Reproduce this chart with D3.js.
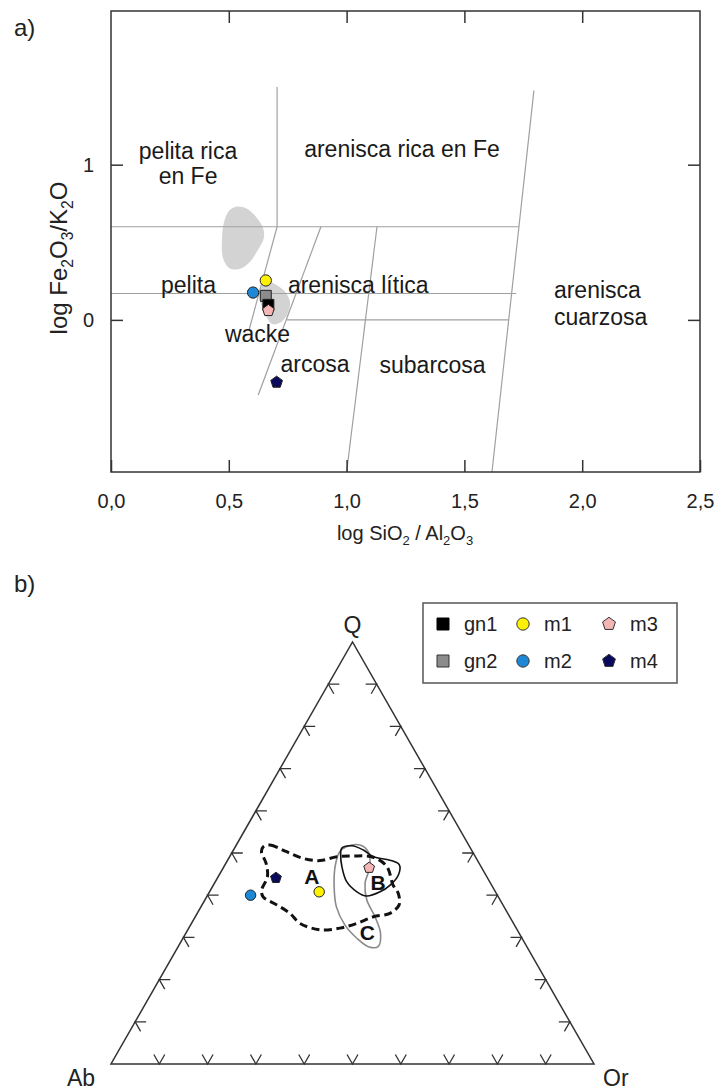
<!DOCTYPE html>
<html>
<head>
<meta charset="utf-8">
<script src="https://cdn.jsdelivr.net/npm/d3@7"></script>
<style>
  body { margin: 0; background: #fff; }
  svg { font-family: "Liberation Sans", Arial, sans-serif; }
</style>
</head>
<body>
<svg width="716" height="1092"></svg>
<script>
// ---- panel a: log SiO2/Al2O3 vs log Fe2O3/K2O (Herron) ----
const xTicks = [0, 0.5, 1.0, 1.5, 2.0, 2.5];
const yTicks = [0, 1];

const muestras = ["m2", "m1", "gn2", "gn1", "m3", "m4"];
const logSiAl = [0.603, 0.657, 0.657, 0.668, 0.668, 0.703];
const logFeK = [0.176, 0.254, 0.155, 0.097, 0.060, -0.402];

// límites de los campos [x, y]
const limites = [
  [[0.705, 1.5], [0.705, 0.6]],
  [[0, 0.6], [1.73, 0.6]],
  [[0, 0.17], [1.72, 0.17]],
  [[0.747, 0], [1.686, 0]],
  [[0.705, 0.6], [0.586, -0.065]],
  [[0.891, 0.6], [0.625, -0.484]],
  [[1.129, 0.6], [1.0, -0.98]],
  [[1.795, 1.477], [1.617, -0.98]]
];

// campos sombreados (muestras de referencia)
const campoGris1 = [[0.531, 0.729], [0.577, 0.716], [0.615, 0.665], [0.645, 0.594], [0.649, 0.529],
  [0.624, 0.452], [0.590, 0.374], [0.548, 0.329], [0.501, 0.335], [0.475, 0.400],
  [0.471, 0.516], [0.480, 0.632], [0.501, 0.703]];
const campoGris2 = [[0.666, 0.245], [0.709, 0.219], [0.743, 0.174], [0.760, 0.110], [0.747, 0.032],
  [0.717, -0.019], [0.683, -0.026], [0.654, 0.039], [0.632, 0.129], [0.637, 0.206]];

const nombresCampos = ["pelita rica", "en Fe", "arenisca rica en Fe", "pelita", "arenisca lítica",
  "wacke", "arcosa", "subarcosa", "arenisca", "cuarzosa"];
const campoX = [0.327, 0.327, 1.235, 0.329, 0.751, 0.622, 0.866, 1.365, 1.88, 1.88];
const campoY = [1.039, 0.877, 1.052, 0.174, 0.174, -0.142, -0.335, -0.342, 0.142, -0.032];
const campoAnchor = ["middle", "middle", "middle", "middle", "start", "middle", "middle", "middle", "start", "start"];

// ---- panel b: Q - Ab - Or ----
const terMuestras = ["m2", "m4", "m1", "m3"];
const terQ = [40.0, 44.1, 40.8, 46.5];
const terAb = [51.1, 43.8, 36.5, 23.3];
const terOr = [8.9, 12.1, 22.7, 30.2];

// [Q, Ab, Or]
const campoA = [[51.5, 42.7, 5.8], [51.9, 41.1, 7.0], [50.3, 38.5, 11.2], [48.7, 35.8, 15.5],
  [48.2, 32.6, 19.2], [49.1, 28.7, 22.2], [49.3, 25.2, 25.5], [49.0, 21.2, 29.8],
  [46.8, 19.5, 33.7], [42.4, 20.4, 37.2], [40.5, 20.3, 39.2], [37.7, 21.5, 40.8],
  [35.7, 24.4, 39.9], [34.9, 28.2, 36.9], [33.3, 32.5, 34.2], [32.2, 36.5, 31.3],
  [31.8, 40.8, 27.4], [33.3, 44.2, 22.5], [35.7, 45.1, 19.2], [37.7, 46.8, 15.5],
  [39.6, 48.7, 11.7], [41.2, 48.2, 10.6], [44.4, 45.4, 10.2], [47.6, 44.1, 8.3],
  [50.3, 43.7, 6.0]];
const campoB = [[51.1, 26.7, 22.2], [51.7, 24.3, 24.0], [50.7, 22.4, 26.9], [49.1, 21.1, 29.8],
  [48.3, 18.1, 33.6], [47.2, 16.7, 36.1], [44.8, 18.1, 37.1], [42.4, 21.0, 36.6],
  [40.8, 23.9, 35.3], [39.8, 27.2, 33.0], [40.8, 28.7, 30.5], [43.2, 29.6, 27.2],
  [46.8, 28.8, 24.4], [49.5, 27.7, 22.8]];
const campoC = [[51.5, 25.5, 23.0], [51.9, 22.5, 25.6], [50.3, 21.6, 28.1], [46.8, 23.0, 30.2],
  [42.8, 26.0, 31.2], [38.9, 27.6, 33.5], [34.9, 27.9, 37.2], [31.0, 28.7, 40.3],
  [27.8, 30.8, 41.4], [27.8, 32.8, 39.4], [29.8, 34.2, 36.0], [32.9, 35.1, 32.0],
  [37.3, 34.7, 28.0], [42.0, 32.8, 25.2], [46.8, 30.2, 23.0], [50.3, 27.5, 22.2]];
const letrasCampos = ["A", "B", "C"];
const letraQ = [44.4, 43.0, 31.1];
const letraOr = [19.4, 33.8, 37.5];
const ticksTer = [10, 20, 30, 40, 50, 60, 70, 80, 90];

// estilo de cada muestra
const estilo = {
  gn1: { tipo: "square", fill: "#000000" },
  gn2: { tipo: "square", fill: "#8c8c8c" },
  m1: { tipo: "circle", fill: "#fff200" },
  m2: { tipo: "circle", fill: "#1e88d6" },
  m3: { tipo: "pent", fill: "#f4b6b4" },
  m4: { tipo: "pent", fill: "#0a0a5c" }
};

const pentagono = {
  draw(context, size) {
    const r = Math.sqrt(size / 2.378);
    for (let i = 0; i < 5; i++) {
      const a = -Math.PI / 2 + i * 2 * Math.PI / 5;
      if (i === 0) context.moveTo(r * Math.cos(a), r * Math.sin(a));
      else context.lineTo(r * Math.cos(a), r * Math.sin(a));
    }
    context.closePath();
  }
};
const tipos = { square: d3.symbolSquare, circle: d3.symbolCircle, pent: pentagono };
const tamanos = { square: 120, circle: 100, pent: 90 };

function simbolo(m, escala) {
  const e = estilo[m];
  return d3.symbol().type(tipos[e.tipo]).size(tamanos[e.tipo] * (escala || 1))();
}

const svg = d3.select("svg");
const locale = d3.formatLocale({ decimal: ",", thousands: ".", grouping: [3], currency: ["", "€"] });

// ===== panel a =====
const x = d3.scaleLinear().domain([0, 2.5]).range([111, 700]);
const y = d3.scaleLinear().domain([-0.98, 1.99]).range([472, 11]);

const ga = svg.append("g");

const blob = d3.line().x(d => x(d[0])).y(d => y(d[1])).curve(d3.curveCatmullRomClosed);
ga.selectAll(".campo").data([campoGris1, campoGris2]).join("path")
  .attr("d", blob).attr("fill", "#d3d3d3");

ga.selectAll(".limite").data(limites).join("line")
  .attr("x1", d => x(d[0][0])).attr("y1", d => y(d[0][1]))
  .attr("x2", d => x(d[1][0])).attr("y2", d => y(d[1][1]))
  .attr("stroke", "#a0a0a0").attr("stroke-width", 1.2);

ga.append("rect")
  .attr("x", x(0)).attr("y", y(1.99))
  .attr("width", x(2.5) - x(0)).attr("height", y(-0.98) - y(1.99))
  .attr("fill", "none").attr("stroke", "#333").attr("stroke-width", 1.5);

const ejeX = ga.append("g").attr("transform", `translate(0,${y(-0.98)})`)
  .call(d3.axisBottom(x).tickValues(xTicks).tickSizeInner(-12).tickSizeOuter(0)
    .tickPadding(22).tickFormat(locale.format(".1f")));
const ejeXtop = ga.append("g").attr("transform", `translate(0,${y(1.99)})`)
  .call(d3.axisTop(x).tickValues(xTicks.slice(1, -1)).tickSizeInner(-12).tickSizeOuter(0).tickFormat(""));
const ejeY = ga.append("g").attr("transform", `translate(${x(0)},0)`)
  .call(d3.axisLeft(y).tickValues(yTicks).tickSizeInner(-12).tickSizeOuter(0)
    .tickPadding(17).tickFormat(d3.format("d")));
const ejeYder = ga.append("g").attr("transform", `translate(${x(2.5)},0)`)
  .call(d3.axisRight(y).tickValues(yTicks).tickSizeInner(-12).tickSizeOuter(0).tickFormat(""));

[ejeX, ejeXtop, ejeY, ejeYder].forEach(g => {
  g.select(".domain").remove();
  g.selectAll(".tick line").attr("stroke", "#333").attr("stroke-width", 1.5);
  g.selectAll(".tick text").attr("font-size", 20).attr("fill", "#222")
    .attr("font-family", "Liberation Sans, Arial, sans-serif");
});

ga.selectAll(".nombre").data(nombresCampos).join("text")
  .attr("x", (d, i) => x(campoX[i])).attr("y", (d, i) => y(campoY[i]))
  .attr("text-anchor", (d, i) => campoAnchor[i])
  .attr("font-size", 23).attr("fill", "#1a1a1a")
  .text(d => d);

ga.selectAll(".punto").data(muestras).join("path")
  .attr("transform", (d, i) => `translate(${x(logSiAl[i])},${y(logFeK[i])})`)
  .attr("d", d => simbolo(d))
  .attr("fill", d => estilo[d].fill)
  .attr("stroke", "#222").attr("stroke-width", 1);

// títulos de ejes con subíndices
function conSub(sel, partes, tam) {
  partes.forEach(p => {
    if (p.sub) sel.append("tspan").attr("font-size", tam * 0.65).attr("dy", tam * 0.25).text(p.t);
    else sel.append("tspan").attr("dy", p.back ? -tam * 0.25 : 0).text(p.t);
  });
}
const tx1 = ga.append("text").attr("x", 405).attr("y", 540).attr("text-anchor", "middle")
  .attr("font-size", 20).attr("fill", "#222");
conSub(tx1, [{ t: "log SiO" }, { t: "2", sub: true }, { t: " / Al", back: true }, { t: "2", sub: true },
  { t: "O", back: true }, { t: "3", sub: true }], 20);

const ty1 = ga.append("text").attr("transform", "translate(67,258) rotate(-90)").attr("text-anchor", "middle")
  .attr("font-size", 24).attr("fill", "#222");
conSub(ty1, [{ t: "log Fe" }, { t: "2", sub: true }, { t: "O", back: true }, { t: "3", sub: true },
  { t: "/K", back: true }, { t: "2", sub: true }, { t: "O", back: true }], 24);

svg.append("text").attr("x", 14).attr("y", 36).attr("font-size", 24).attr("fill", "#222").text("a)");
svg.append("text").attr("x", 14).attr("y", 592).attr("font-size", 24).attr("fill", "#222").text("b)");

// ===== panel b =====
const tx = d3.scaleLinear().domain([0, 100]).range([111, 594]);
const ty = d3.scaleLinear().domain([0, 100]).range([1064, 642]);
const px = (q, or) => tx(or + q / 2);
const py = q => ty(q);

const gb = svg.append("g");
const vAb = [px(0, 0), py(0)], vOr = [px(0, 100), py(0)], vQ = [px(100, 0), py(100)];
gb.append("path")
  .attr("d", d3.line()([vAb, vOr, vQ]) + "Z")
  .attr("fill", "none").attr("stroke", "#333").attr("stroke-width", 1.5);

// direcciones de las marcas
function unit(a, b) { const dx = b[0] - a[0], dy = b[1] - a[1], l = Math.hypot(dx, dy); return [dx / l, dy / l]; }
const dAbQ = unit(vAb, vQ), dOrQ = unit(vOr, vQ), dAbOr = unit(vAb, vOr);
const L = 11;
const marcas = [];
ticksTer.forEach(t => {
  // base (Q=0)
  marcas.push({ p: [px(0, t), py(0)], a: dAbQ, b: dOrQ });
  // lado izquierdo (Or=0)
  marcas.push({ p: [px(t, 0), py(t)], a: dAbOr, b: [-dOrQ[0], -dOrQ[1]] });
  // lado derecho (Ab=0)
  marcas.push({ p: [px(t, 100 - t), py(t)], a: [-dAbOr[0], -dAbOr[1]], b: [-dAbQ[0], -dAbQ[1]] });
});
gb.selectAll(".marca").data(marcas).join("path")
  .attr("d", m => `M${m.p[0] + m.a[0] * L},${m.p[1] + m.a[1] * L}L${m.p[0]},${m.p[1]}L${m.p[0] + m.b[0] * L},${m.p[1] + m.b[1] * L}`)
  .attr("fill", "none").attr("stroke", "#333").attr("stroke-width", 1.3);

const tline = d3.line().x(d => px(d[0], d[2])).y(d => py(d[0])).curve(d3.curveCatmullRomClosed);
gb.append("path").datum(campoC).attr("d", tline)
  .attr("fill", "none").attr("stroke", "#8a8a8a").attr("stroke-width", 1.6);
gb.append("path").datum(campoB).attr("d", tline)
  .attr("fill", "none").attr("stroke", "#111").attr("stroke-width", 1.6);
gb.append("path").datum(campoA).attr("d", tline)
  .attr("fill", "none").attr("stroke", "#111").attr("stroke-width", 3).attr("stroke-dasharray", "8,4.5");

gb.selectAll(".letra").data(letrasCampos).join("text")
  .attr("x", (d, i) => px(letraQ[i], letraOr[i])).attr("y", (d, i) => py(letraQ[i]))
  .attr("dy", "0.36em").attr("text-anchor", "middle")
  .attr("font-size", 21).attr("font-weight", "bold").attr("fill", "#111")
  .text(d => d);

gb.selectAll(".tpunto").data(terMuestras).join("path")
  .attr("transform", (d, i) => `translate(${px(terQ[i], terOr[i])},${py(terQ[i])})`)
  .attr("d", d => simbolo(d, 0.85))
  .attr("fill", d => estilo[d].fill)
  .attr("stroke", "#222").attr("stroke-width", 1);

gb.append("text").attr("x", vQ[0]).attr("y", 633).attr("text-anchor", "middle").attr("font-size", 23).attr("fill", "#222").text("Q");
gb.append("text").attr("x", 67).attr("y", 1086).attr("font-size", 23).attr("fill", "#222").text("Ab");
gb.append("text").attr("x", 603).attr("y", 1086).attr("font-size", 23).attr("fill", "#222").text("Or");

// leyenda
const leyenda = [["gn1", "m1", "m3"], ["gn2", "m2", "m4"]];
const gl = svg.append("g");
gl.append("rect").attr("x", 423).attr("y", 603).attr("width", 254).attr("height", 80)
  .attr("fill", "#fff").attr("stroke", "#555").attr("stroke-width", 1.5);
const colX = [443, 523, 609];
const filaY = [624, 661];
leyenda.forEach((fila, r) => fila.forEach((m, c) => {
  gl.append("path").attr("transform", `translate(${colX[c]},${filaY[r]})`)
    .attr("d", simbolo(m, 1.2)).attr("fill", estilo[m].fill)
    .attr("stroke", m === "gn1" ? "#000" : "#333").attr("stroke-width", 1);
  gl.append("text").attr("x", colX[c] + 21).attr("y", filaY[r] + 7).attr("font-size", 20)
    .attr("fill", "#222").text(m);
}));
</script>
</body>
</html>
